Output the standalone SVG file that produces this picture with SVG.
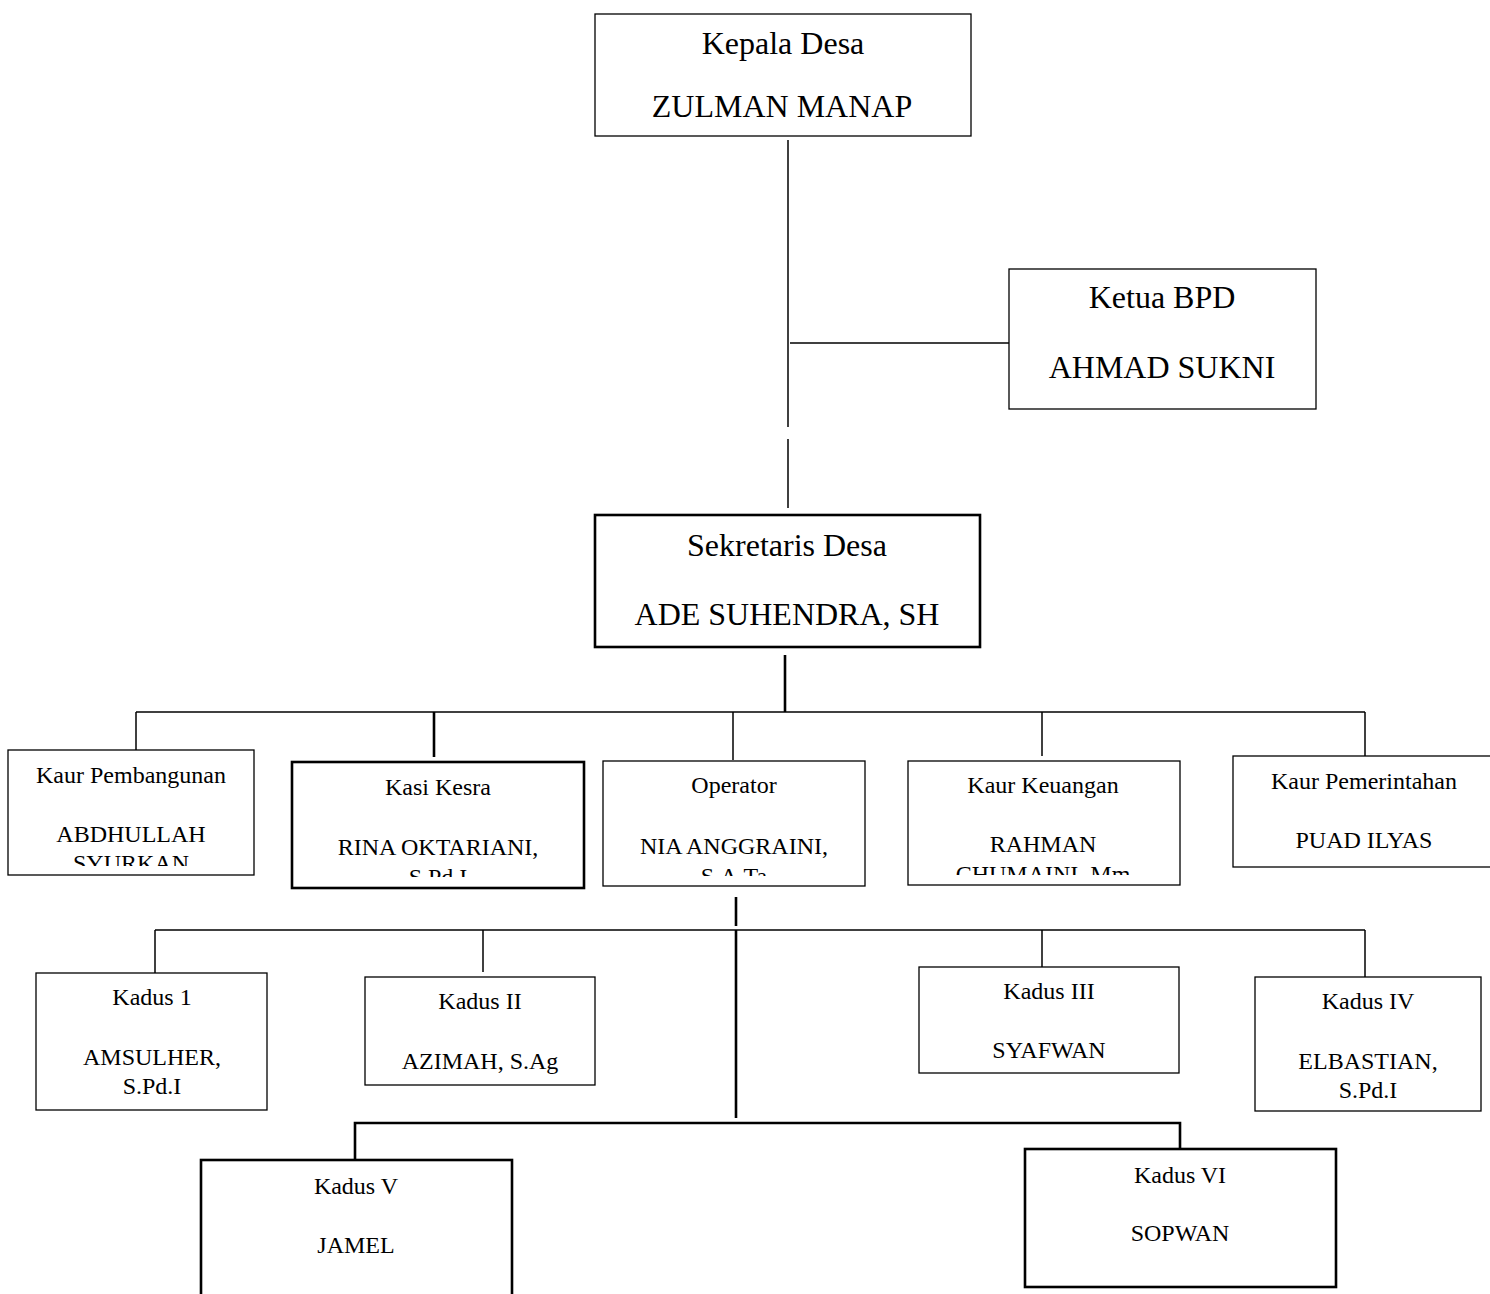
<svg xmlns="http://www.w3.org/2000/svg" width="1490" height="1294" viewBox="0 0 1490 1294">
<style>
.box{fill:#fff;stroke:#000;stroke-width:1.3}
.thick{fill:#fff;stroke:#000;stroke-width:2.6}
.ln{stroke:#000;stroke-width:1.5;fill:none}
.lt{stroke:#000;stroke-width:2.6;fill:none}
text{font-family:"Liberation Serif","Times New Roman",serif;fill:#000;text-anchor:middle}
.big{font-size:32px}
.med{font-size:24px}
</style>
<defs>
<clipPath id="c1"><rect x="8" y="750" width="246" height="116"/></clipPath>
<clipPath id="c2"><rect x="292" y="762" width="292" height="115"/></clipPath>
<clipPath id="c3"><rect x="603" y="761" width="262" height="115"/></clipPath>
<clipPath id="c4"><rect x="908" y="761" width="272" height="114"/></clipPath>
</defs>
<g id="connectors">
<line class="ln" x1="788" y1="140" x2="788" y2="427"/>
<line class="ln" x1="788" y1="439" x2="788" y2="508"/>
<line class="ln" x1="790" y1="343" x2="1009" y2="343"/>
<line class="lt" x1="785" y1="655" x2="785" y2="712"/>
<line class="ln" x1="136" y1="712" x2="1365" y2="712"/>
<line class="ln" x1="136" y1="712" x2="136" y2="750"/>
<line class="lt" x1="434" y1="712" x2="434" y2="757"/>
<line class="ln" x1="733" y1="712" x2="733" y2="760"/>
<line class="ln" x1="1042" y1="712" x2="1042" y2="756"/>
<line class="ln" x1="1365" y1="712" x2="1365" y2="756"/>
<line class="lt" x1="736" y1="897" x2="736" y2="926"/>
<line class="ln" x1="155" y1="930" x2="1365" y2="930"/>
<line class="ln" x1="155" y1="930" x2="155" y2="973"/>
<line class="ln" x1="483" y1="930" x2="483" y2="972"/>
<line class="ln" x1="1042" y1="930" x2="1042" y2="967"/>
<line class="ln" x1="1365" y1="930" x2="1365" y2="977"/>
<line class="lt" x1="736" y1="930" x2="736" y2="1118"/>
<polyline class="lt" points="355,1160 355,1123 1180,1123 1180,1149"/>
</g>
<g id="kepala-desa">
<rect class="box" x="595" y="14" width="376" height="122"/>
<text class="big" x="783" y="54">Kepala Desa</text>
<text class="big" x="782" y="117">ZULMAN MANAP</text>
</g>
<g id="ketua-bpd">
<rect class="box" x="1009" y="269" width="307" height="140"/>
<text class="big" x="1162" y="308">Ketua BPD</text>
<text class="big" x="1162" y="378">AHMAD SUKNI</text>
</g>
<g id="sekretaris-desa">
<rect class="thick" x="595" y="515" width="385" height="132"/>
<text class="big" x="787" y="556">Sekretaris Desa</text>
<text class="big" x="787" y="625">ADE SUHENDRA, SH</text>
</g>
<g id="kaur-pembangunan">
<rect class="box" x="8" y="750" width="246" height="125"/>
<g clip-path="url(#c1)">
<text class="med" x="131" y="783">Kaur Pembangunan</text>
<text class="med" x="131" y="842">ABDHULLAH</text>
<text class="med" x="131" y="871">SYURKAN</text>
</g>
</g>
<g id="kasi-kesra">
<rect class="thick" x="292" y="762" width="292" height="126"/>
<g clip-path="url(#c2)">
<text class="med" x="438" y="795">Kasi Kesra</text>
<text class="med" x="438" y="855">RINA OKTARIANI,</text>
<text class="med" x="438" y="885">S.Pd.I</text>
</g>
</g>
<g id="operator">
<rect class="box" x="603" y="761" width="262" height="125"/>
<g clip-path="url(#c3)">
<text class="med" x="734" y="793">Operator</text>
<text class="med" x="734" y="854">NIA ANGGRAINI,</text>
<text class="med" x="734" y="884">S.A.Ta</text>
</g>
</g>
<g id="kaur-keuangan">
<rect class="box" x="908" y="761" width="272" height="124"/>
<g clip-path="url(#c4)">
<text class="med" x="1043" y="793">Kaur Keuangan</text>
<text class="med" x="1043" y="852">RAHMAN</text>
<text class="med" x="1043" y="882">CHUMAINI, Mm</text>
</g>
</g>
<g id="kaur-pemerintahan">
<rect class="box" x="1233" y="756" width="262" height="111"/>
<text class="med" x="1364" y="789">Kaur Pemerintahan</text>
<text class="med" x="1364" y="848">PUAD ILYAS</text>
</g>
<g id="kadus-1">
<rect class="box" x="36" y="973" width="231" height="137"/>
<text class="med" x="152" y="1005">Kadus 1</text>
<text class="med" x="152" y="1065">AMSULHER,</text>
<text class="med" x="152" y="1094">S.Pd.I</text>
</g>
<g id="kadus-2">
<rect class="box" x="365" y="977" width="230" height="108"/>
<text class="med" x="480" y="1009">Kadus II</text>
<text class="med" x="480" y="1069">AZIMAH, S.Ag</text>
</g>
<g id="kadus-3">
<rect class="box" x="919" y="967" width="260" height="106"/>
<text class="med" x="1049" y="999">Kadus III</text>
<text class="med" x="1049" y="1058">SYAFWAN</text>
</g>
<g id="kadus-4">
<rect class="box" x="1255" y="977" width="226" height="134"/>
<text class="med" x="1368" y="1009">Kadus IV</text>
<text class="med" x="1368" y="1069">ELBASTIAN,</text>
<text class="med" x="1368" y="1098">S.Pd.I</text>
</g>
<g id="kadus-5">
<rect class="thick" x="201" y="1160" width="311" height="150"/>
<text class="med" x="356" y="1194">Kadus V</text>
<text class="med" x="356" y="1253">JAMEL</text>
</g>
<g id="kadus-6">
<rect class="thick" x="1025" y="1149" width="311" height="138"/>
<text class="med" x="1180" y="1183">Kadus VI</text>
<text class="med" x="1180" y="1241">SOPWAN</text>
</g>
</svg>
